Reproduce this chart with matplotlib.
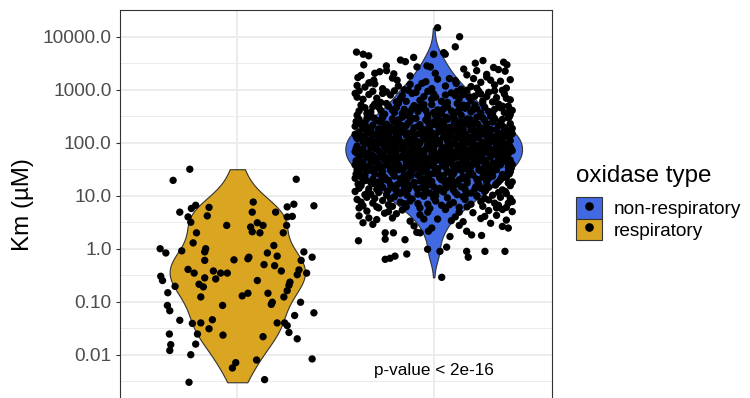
import numpy as np
import matplotlib
matplotlib.use("Agg")
import matplotlib.pyplot as plt
from matplotlib import cbook, mlab
from matplotlib.patches import Patch
from matplotlib.lines import Line2D
from matplotlib.legend_handler import HandlerTuple
from matplotlib.ticker import FixedLocator, NullFormatter

plt.rcParams['font.family'] = ['Liberation Sans', 'DejaVu Sans']

# ---------------- data ----------------
categories = ["respiratory", "non-respiratory"]          # left, right on the x axis
legend_order = ["non-respiratory", "respiratory"]
fill_colors = {"non-respiratory": "#4169E1", "respiratory": "#DAA520"}
legend_title = "oxidase type"
y_label = "Km (\u00b5M)"
y_ticks = [0.01, 0.1, 1, 10, 100, 1000, 10000]
y_tick_labels = ["0.01", "0.10", "1.0", "10.0", "100.0", "1000.0", "10000.0"]
p_label = "p-value < 2e-16"
p_label_y = 0.005

# (horizontal jitter offset, log10 Km [uM])
resp_points = [
    (-0.242, 1.50), (-0.327, 1.29), (0.300, 1.31), (0.081, 0.88), (0.076, 0.69), (-0.212, 0.82), (-0.234, 0.76),
    (-0.293, 0.69), (-0.251, 0.60), (-0.237, 0.50), (-0.144, 0.78), (-0.153, 0.62), (-0.054, 0.44), (0.068, 0.41),
    (0.102, 0.49), (0.131, 0.44), (0.076, 0.32), (0.115, 0.30), (-0.208, 0.30), (-0.225, 0.11), (0.195, 0.69),
    (0.254, 0.79), (0.288, 0.84), (0.254, 0.60), (0.280, 0.61), (0.390, 0.81), (0.251, 0.44), (0.234, 0.30),
    (0.186, 0.06), (-0.393, 0.00), (-0.364, -0.08), (-0.283, -0.04), (-0.161, 0.00), (-0.166, -0.06), (-0.166, -0.22),
    (-0.017, -0.21), (0.059, -0.16), (0.054, -0.19), (0.153, -0.08), (0.203, -0.14), (0.190, -0.32), (0.136, -0.30),
    (0.224, -0.42), (0.339, -0.06), (0.325, -0.22), (0.381, -0.16), (0.314, -0.40), (0.305, -0.49), (0.353, -0.46),
    (-0.251, -0.39), (-0.220, -0.46), (-0.122, -0.42), (-0.085, -0.46), (-0.051, -0.46), (-0.110, -0.57), (-0.166, -0.55),
    (-0.390, -0.52), (-0.381, -0.60), (-0.317, -0.71), (-0.195, -0.67), (-0.173, -0.72), (-0.186, -0.91), (-0.354, -0.83),
    (-0.356, -1.07), (-0.344, -1.17), (-0.293, -1.35), (0.102, -0.60), (0.025, -0.89), (0.054, -0.84), (0.156, -0.84),
    (0.178, -1.01), (0.173, -1.05), (0.237, -0.91), (0.254, -0.79), (0.263, -0.69), (0.268, -0.63), (0.322, -1.01),
    (0.292, -1.26), (0.390, -1.21), (-0.075, -1.07), (-0.229, -1.41), (-0.186, -1.40), (-0.127, -1.34), (-0.144, -1.51),
    (-0.203, -1.61), (0.203, -1.40), (0.241, -1.40), (0.254, -1.45), (0.263, -1.58), (0.305, -1.70), (0.131, -1.66),
    (-0.073, -1.63), (-0.346, -1.61), (-0.339, -1.81), (-0.344, -1.92), (-0.212, -1.80), (-0.237, -2.00), (0.381, -2.08),
    (0.098, -2.10), (-0.008, -2.15), (-0.025, -2.25), (-0.246, -2.52), (0.139, -2.47),
]

nonresp_points_top = [
    (0.020, 4.17), (0.132, 4.00), (0.110, 3.81), (-0.393, 3.71), (-0.359, 3.67), (-0.331, 3.64), (-0.356, 3.47),
    (-0.169, 3.56), (-0.144, 3.53), (-0.102, 3.61), (0.000, 3.67), (0.051, 3.70), (0.059, 3.67), (-0.241, 3.45),
    (-0.275, 3.34), (-0.386, 3.23), (-0.305, 3.18), (-0.322, 3.13), (-0.203, 3.30), (-0.186, 3.18), (-0.085, 3.43),
    (-0.034, 3.45), (-0.017, 3.43), (0.008, 3.31), (0.153, 3.39), (0.212, 3.50), (0.251, 3.55), (0.305, 3.42),
    (0.356, 3.52), (0.373, 3.47), (0.364, 3.35), (0.169, 3.28), (0.203, 3.21), (0.115, 3.12), (0.219, 3.36),
    (-0.37, 3.27), (-0.24, 3.36), (-0.12, 3.26), (0.27, 3.29), (0.33, 3.38), (-0.30, 3.31),
]

nonresp_points_core = [
    (-0.35, 3.05), (-0.26, 3.02), (-0.12, 3.10), (-0.04, 3.15), (0.06, 3.07), (0.14, 3.01), (0.24, 3.14), (0.31, 3.09),
    (0.37, 3.03), (-0.39, 3.08), (-0.21, 3.22), (-0.08, 3.04), (0.02, 3.20), (0.11, 3.17), (0.27, 3.24), (0.34, 3.16),
    (-0.30, 3.11), (-0.15, 3.00), (0.19, 3.06), (-0.01, 3.02), (0.39, 3.19),
    (-0.38, 2.98), (-0.33, 2.91), (-0.29, 2.84), (-0.24, 2.96), (-0.19, 2.77), (-0.16, 2.89), (-0.11, 2.93), (-0.07, 2.80),
    (-0.03, 2.97), (0.01, 2.86), (0.04, 2.78), (0.09, 2.94), (0.13, 2.83), (0.17, 2.99), (0.21, 2.88), (0.25, 2.79),
    (0.28, 2.95), (0.32, 2.85), (0.36, 2.92), (0.39, 2.81), (-0.36, 2.82), (-0.27, 2.76), (-0.22, 2.90), (-0.13, 2.99),
    (-0.05, 2.87), (0.07, 2.76), (0.15, 2.91), (0.23, 2.97), (0.30, 2.77), (0.35, 2.99), (-0.40, 2.93), (-0.17, 2.83),
    (-0.09, 2.95), (0.11, 2.89), (0.19, 2.80), (0.27, 2.87), (-0.31, 2.97), (0.00, 2.92),
    (-0.39, 2.52), (-0.35, 2.66), (-0.32, 2.58), (-0.30, 2.73), (-0.27, 2.61), (-0.25, 2.54), (-0.23, 2.69), (-0.20, 2.57),
    (-0.18, 2.74), (-0.15, 2.63), (-0.13, 2.51), (-0.10, 2.70), (-0.08, 2.59), (-0.06, 2.66), (-0.03, 2.53), (-0.01, 2.72),
    (0.02, 2.62), (0.04, 2.55), (0.07, 2.68), (0.09, 2.60), (0.12, 2.74), (0.14, 2.52), (0.16, 2.65), (0.19, 2.58),
    (0.21, 2.71), (0.24, 2.56), (0.26, 2.67), (0.29, 2.50), (0.31, 2.63), (0.33, 2.73), (0.36, 2.57), (0.38, 2.69),
    (0.40, 2.61), (-0.37, 2.71), (-0.34, 2.55), (-0.28, 2.67), (-0.21, 2.62), (-0.16, 2.55), (-0.11, 2.64), (-0.04, 2.61),
    (0.01, 2.51), (0.06, 2.73), (0.11, 2.57), (0.17, 2.70), (0.22, 2.64), (0.28, 2.59), (0.34, 2.66), (0.39, 2.53),
    (-0.24, 2.74), (-0.07, 2.68), (0.13, 2.63),
    (-0.40, 2.31), (-0.38, 2.44), (-0.36, 2.27), (-0.35, 2.38), (-0.33, 2.49), (-0.31, 2.33), (-0.29, 2.42), (-0.28, 2.26),
    (-0.26, 2.47), (-0.24, 2.35), (-0.22, 2.29), (-0.21, 2.45), (-0.19, 2.37), (-0.17, 2.26), (-0.16, 2.48), (-0.14, 2.32),
    (-0.12, 2.41), (-0.10, 2.28), (-0.09, 2.46), (-0.07, 2.34), (-0.05, 2.25), (-0.04, 2.43), (-0.02, 2.30), (0.00, 2.39),
    (0.02, 2.47), (0.03, 2.27), (0.05, 2.36), (0.07, 2.44), (0.08, 2.29), (0.10, 2.49), (0.12, 2.33), (0.14, 2.40),
    (0.15, 2.26), (0.17, 2.45), (0.19, 2.31), (0.21, 2.38), (0.22, 2.48), (0.24, 2.28), (0.26, 2.42), (0.27, 2.35),
    (0.29, 2.25), (0.31, 2.46), (0.33, 2.32), (0.34, 2.40), (0.36, 2.29), (0.38, 2.47), (0.39, 2.36), (-0.37, 2.35),
    (-0.32, 2.25), (-0.27, 2.39), (-0.23, 2.26), (-0.18, 2.43), (-0.13, 2.37), (-0.08, 2.31), (-0.03, 2.48), (0.01, 2.34),
    (0.06, 2.28), (0.11, 2.43), (0.16, 2.37), (0.20, 2.27), (0.25, 2.47), (0.30, 2.39), (0.35, 2.44), (0.40, 2.27),
    (-0.34, 2.46), (-0.15, 2.29), (0.04, 2.41), (0.18, 2.34), (0.32, 2.25),
    (-0.39, 2.08), (-0.38, 2.19), (-0.36, 2.02), (-0.35, 2.13), (-0.34, 2.23), (-0.32, 2.06), (-0.31, 2.16), (-0.30, 2.01),
    (-0.28, 2.21), (-0.27, 2.10), (-0.26, 2.04), (-0.24, 2.18), (-0.23, 2.12), (-0.22, 2.24), (-0.20, 2.03), (-0.19, 2.15),
    (-0.18, 2.09), (-0.16, 2.22), (-0.15, 2.00), (-0.14, 2.14), (-0.12, 2.07), (-0.11, 2.20), (-0.10, 2.11), (-0.08, 2.02),
    (-0.07, 2.17), (-0.06, 2.24), (-0.04, 2.05), (-0.03, 2.13), (-0.02, 2.21), (0.00, 2.08), (0.01, 2.16), (0.03, 2.01),
    (0.04, 2.23), (0.05, 2.11), (0.07, 2.04), (0.08, 2.19), (0.09, 2.14), (0.11, 2.06), (0.12, 2.22), (0.13, 2.10),
    (0.15, 2.02), (0.16, 2.17), (0.17, 2.12), (0.19, 2.24), (0.20, 2.05), (0.21, 2.15), (0.23, 2.09), (0.24, 2.20),
    (0.25, 2.01), (0.27, 2.13), (0.28, 2.07), (0.29, 2.23), (0.31, 2.11), (0.32, 2.03), (0.33, 2.18), (0.35, 2.08),
    (0.36, 2.21), (0.37, 2.14), (0.39, 2.04), (0.40, 2.17), (-0.37, 2.11), (-0.33, 2.00), (-0.29, 2.14), (-0.25, 2.23),
    (-0.21, 2.07), (-0.17, 2.19), (-0.13, 2.03), (-0.09, 2.16), (-0.05, 2.09), (-0.01, 2.19), (0.02, 2.05), (0.06, 2.15),
    (0.10, 2.24), (0.14, 2.08), (0.18, 2.01), (0.22, 2.21), (0.26, 2.16), (0.30, 2.06), (0.34, 2.13), (0.38, 2.22),
    (-0.40, 2.16), (-0.19, 2.24), (0.00, 2.00), (0.19, 2.10), (0.35, 2.00),
    (-0.40, 1.83), (-0.39, 1.94), (-0.37, 1.77), (-0.36, 1.88), (-0.35, 1.98), (-0.33, 1.81), (-0.32, 1.91), (-0.31, 1.76),
    (-0.29, 1.96), (-0.28, 1.85), (-0.27, 1.79), (-0.25, 1.93), (-0.24, 1.87), (-0.23, 1.99), (-0.21, 1.78), (-0.20, 1.90),
    (-0.19, 1.84), (-0.17, 1.97), (-0.16, 1.75), (-0.15, 1.89), (-0.13, 1.82), (-0.12, 1.95), (-0.11, 1.86), (-0.09, 1.77),
    (-0.08, 1.92), (-0.07, 1.99), (-0.05, 1.80), (-0.04, 1.88), (-0.03, 1.96), (-0.01, 1.83), (0.00, 1.91), (0.02, 1.76),
    (0.03, 1.98), (0.04, 1.86), (0.06, 1.79), (0.07, 1.94), (0.08, 1.89), (0.10, 1.81), (0.11, 1.97), (0.12, 1.85),
    (0.14, 1.77), (0.15, 1.92), (0.16, 1.87), (0.18, 1.99), (0.19, 1.80), (0.20, 1.90), (0.22, 1.84), (0.23, 1.95),
    (0.24, 1.76), (0.26, 1.88), (0.27, 1.82), (0.28, 1.98), (0.30, 1.86), (0.31, 1.78), (0.32, 1.93), (0.34, 1.83),
    (0.35, 1.96), (0.36, 1.89), (0.38, 1.79), (0.39, 1.92), (0.40, 1.85), (-0.38, 1.86), (-0.34, 1.75), (-0.30, 1.89),
    (-0.26, 1.98), (-0.22, 1.82), (-0.18, 1.94), (-0.14, 1.78), (-0.10, 1.91), (-0.06, 1.84), (-0.02, 1.94), (0.01, 1.80),
    (0.05, 1.90), (0.09, 1.99), (0.13, 1.83), (0.17, 1.76), (0.21, 1.96), (0.25, 1.91), (0.29, 1.81), (0.33, 1.88),
    (0.37, 1.97), (-0.39, 1.80), (-0.20, 1.97), (-0.01, 1.75), (0.18, 1.85), (0.34, 1.75), (-0.12, 1.80), (0.07, 1.84),
    (0.26, 1.94),
    (-0.40, 1.58), (-0.38, 1.69), (-0.37, 1.52), (-0.36, 1.63), (-0.34, 1.73), (-0.33, 1.56), (-0.32, 1.66), (-0.30, 1.51),
    (-0.29, 1.71), (-0.28, 1.60), (-0.26, 1.54), (-0.25, 1.68), (-0.24, 1.62), (-0.22, 1.74), (-0.21, 1.53), (-0.20, 1.65),
    (-0.18, 1.59), (-0.17, 1.72), (-0.16, 1.50), (-0.14, 1.64), (-0.13, 1.57), (-0.12, 1.70), (-0.10, 1.61), (-0.09, 1.52),
    (-0.08, 1.67), (-0.06, 1.74), (-0.05, 1.55), (-0.04, 1.63), (-0.02, 1.71), (-0.01, 1.58), (0.01, 1.66), (0.02, 1.51),
    (0.03, 1.73), (0.05, 1.61), (0.06, 1.54), (0.07, 1.69), (0.09, 1.64), (0.10, 1.56), (0.11, 1.72), (0.13, 1.60),
    (0.14, 1.52), (0.15, 1.67), (0.17, 1.62), (0.18, 1.74), (0.19, 1.55), (0.21, 1.65), (0.22, 1.59), (0.23, 1.70),
    (0.25, 1.51), (0.26, 1.63), (0.27, 1.57), (0.29, 1.73), (0.30, 1.61), (0.31, 1.53), (0.33, 1.68), (0.34, 1.58),
    (0.35, 1.71), (0.37, 1.64), (0.38, 1.54), (0.39, 1.67), (-0.39, 1.61), (-0.35, 1.50), (-0.31, 1.64), (-0.27, 1.73),
    (-0.23, 1.57), (-0.19, 1.69), (-0.15, 1.53), (-0.11, 1.66), (-0.07, 1.59), (-0.03, 1.69), (0.00, 1.55), (0.04, 1.65),
    (0.08, 1.74), (0.12, 1.58), (0.16, 1.51), (0.20, 1.71), (0.24, 1.66), (0.28, 1.56), (0.32, 1.63), (0.36, 1.72),
    (0.40, 1.59), (-0.18, 1.52), (0.05, 1.70), (0.27, 1.50),
    (-0.40, 1.33), (-0.38, 1.44), (-0.36, 1.27), (-0.35, 1.38), (-0.33, 1.48), (-0.31, 1.31), (-0.30, 1.41), (-0.28, 1.26),
    (-0.26, 1.46), (-0.25, 1.35), (-0.23, 1.29), (-0.21, 1.43), (-0.20, 1.37), (-0.18, 1.49), (-0.16, 1.28), (-0.15, 1.40),
    (-0.13, 1.34), (-0.11, 1.47), (-0.10, 1.25), (-0.08, 1.39), (-0.06, 1.32), (-0.05, 1.45), (-0.03, 1.36), (-0.01, 1.27),
    (0.00, 1.42), (0.02, 1.49), (0.04, 1.30), (0.05, 1.38), (0.07, 1.46), (0.09, 1.33), (0.10, 1.41), (0.12, 1.26),
    (0.14, 1.48), (0.15, 1.36), (0.17, 1.29), (0.19, 1.44), (0.20, 1.39), (0.22, 1.31), (0.24, 1.47), (0.25, 1.35),
    (0.27, 1.27), (0.29, 1.42), (0.30, 1.37), (0.32, 1.49), (0.34, 1.30), (0.35, 1.40), (0.37, 1.34), (0.39, 1.45),
    (0.40, 1.26), (-0.37, 1.36), (-0.32, 1.25), (-0.27, 1.39), (-0.22, 1.48), (-0.17, 1.32), (-0.12, 1.44), (-0.07, 1.28),
    (-0.02, 1.41), (0.03, 1.34), (0.08, 1.44), (0.13, 1.30), (0.18, 1.40), (0.23, 1.49), (0.28, 1.33), (0.33, 1.26),
    (0.38, 1.46), (-0.39, 1.49), (-0.14, 1.25), (0.06, 1.25), (0.26, 1.45), (-0.24, 1.30),
    (-0.40, 1.08), (-0.37, 1.19), (-0.35, 1.02), (-0.33, 1.13), (-0.31, 1.23), (-0.28, 1.06), (-0.26, 1.16), (-0.24, 1.01),
    (-0.22, 1.21), (-0.19, 1.10), (-0.17, 1.04), (-0.15, 1.18), (-0.13, 1.12), (-0.10, 1.24), (-0.08, 1.03), (-0.06, 1.15),
    (-0.04, 1.09), (-0.01, 1.22), (0.01, 1.00), (0.03, 1.14), (0.05, 1.07), (0.08, 1.20), (0.10, 1.11), (0.12, 1.02),
    (0.14, 1.17), (0.17, 1.24), (0.19, 1.05), (0.21, 1.13), (0.23, 1.21), (0.26, 1.08), (0.28, 1.16), (0.30, 1.01),
    (0.32, 1.23), (0.35, 1.11), (0.37, 1.04), (0.39, 1.19), (-0.38, 1.14), (-0.32, 1.03), (-0.27, 1.22), (-0.21, 1.15),
    (-0.16, 1.07), (-0.11, 1.20), (-0.05, 1.02), (0.00, 1.17), (0.06, 1.23), (0.11, 1.06), (0.16, 1.12), (0.22, 1.00),
    (0.27, 1.19), (0.33, 1.06), (0.38, 1.24), (-0.29, 1.12), (-0.02, 1.05), (0.24, 1.14), (0.09, 1.23),
    (-0.39, 0.93), (-0.36, 0.81), (-0.34, 0.97), (-0.31, 0.86), (-0.28, 0.77), (-0.26, 0.91), (-0.23, 0.83), (-0.20, 0.98),
    (-0.17, 0.88), (-0.14, 0.79), (-0.11, 0.94), (-0.08, 0.85), (-0.05, 0.99), (-0.02, 0.76), (0.01, 0.90), (0.04, 0.82),
    (0.07, 0.96), (0.10, 0.87), (0.13, 0.78), (0.16, 0.93), (0.19, 0.84), (0.22, 0.99), (0.25, 0.80), (0.28, 0.92),
    (0.31, 0.86), (0.34, 0.97), (0.37, 0.78), (0.40, 0.89), (-0.38, 0.77), (-0.30, 0.95), (-0.21, 0.80), (-0.12, 0.90),
    (-0.03, 0.84), (0.06, 0.77), (0.15, 0.98), (0.24, 0.89), (0.33, 0.82), (0.39, 0.95),
    (-0.38, 0.62), (-0.34, 0.71), (-0.29, 0.55), (-0.25, 0.67), (-0.21, 0.58), (-0.16, 0.73), (-0.12, 0.52), (-0.07, 0.64),
    (-0.03, 0.69), (0.02, 0.56), (0.06, 0.74), (0.11, 0.60), (0.15, 0.51), (0.20, 0.68), (0.24, 0.57), (0.28, 0.72),
    (0.32, 0.63), (0.37, 0.54), (0.40, 0.70), (-0.19, 0.66), (0.09, 0.53),
]

nonresp_points_core2 = [
    (-0.33, 3.13), (-0.18, 3.07), (0.08, 3.21), (0.22, 3.03), (0.29, 3.18), (-0.06, 3.12),
    (-0.39, 2.86), (-0.26, 2.93), (-0.14, 2.78), (-0.01, 2.82), (0.06, 2.90), (0.12, 2.97), (0.18, 2.86), (0.24, 2.92),
    (0.31, 2.98), (0.37, 2.84), (-0.20, 2.98),
    (-0.38, 2.60), (-0.31, 2.68), (-0.26, 2.51), (-0.19, 2.66), (-0.12, 2.58), (-0.05, 2.72), (0.00, 2.57), (0.05, 2.64),
    (0.10, 2.53), (0.15, 2.71), (0.20, 2.62), (0.25, 2.74), (0.30, 2.55), (0.35, 2.69), (0.39, 2.62),
    (-0.395, 2.40), (-0.345, 2.30), (-0.305, 2.47), (-0.255, 2.27), (-0.205, 2.41), (-0.165, 2.33), (-0.115, 2.47),
    (-0.065, 2.26), (-0.025, 2.37), (0.025, 2.31), (0.065, 2.48), (0.105, 2.38), (0.145, 2.29), (0.185, 2.44),
    (0.225, 2.35), (0.265, 2.26), (0.305, 2.43), (0.345, 2.34), (0.385, 2.49), (-0.185, 2.28),
    (-0.395, 2.12), (-0.355, 2.05), (-0.325, 2.19), (-0.285, 2.03), (-0.255, 2.14), (-0.215, 2.22), (-0.175, 2.05),
    (-0.135, 2.18), (-0.095, 2.01), (-0.055, 2.14), (-0.015, 2.06), (0.025, 2.21), (0.065, 2.09), (0.105, 2.02),
    (0.145, 2.17), (0.185, 2.06), (0.225, 2.13), (0.265, 2.24), (0.305, 2.02), (0.345, 2.16), (0.385, 2.09),
    (-0.235, 2.00), (-0.045, 2.22), (0.125, 2.12), (0.285, 2.18),
    (-0.395, 1.89), (-0.355, 1.78), (-0.315, 1.95), (-0.275, 1.83), (-0.235, 1.91), (-0.195, 1.77), (-0.155, 1.86),
    (-0.115, 1.99), (-0.075, 1.81), (-0.035, 1.90), (0.005, 1.97), (0.045, 1.78), (0.085, 1.87), (0.125, 1.95),
    (0.165, 1.82), (0.205, 1.93), (0.245, 1.80), (0.285, 1.89), (0.325, 1.98), (0.365, 1.77), (0.395, 1.88),
    (-0.255, 1.76), (-0.095, 1.95), (0.065, 1.91), (0.225, 1.78), (0.355, 1.85),
    (-0.395, 1.66), (-0.355, 1.55), (-0.315, 1.70), (-0.275, 1.52), (-0.235, 1.64), (-0.195, 1.58), (-0.155, 1.73),
    (-0.115, 1.55), (-0.075, 1.63), (-0.035, 1.52), (0.005, 1.68), (0.045, 1.57), (0.085, 1.62), (0.125, 1.74),
    (0.165, 1.56), (0.205, 1.64), (0.245, 1.72), (0.285, 1.53), (0.325, 1.60), (0.365, 1.69), (0.395, 1.52),
    (-0.215, 1.71), (-0.055, 1.60), (0.105, 1.50), (0.265, 1.67),
    (-0.395, 1.41), (-0.345, 1.29), (-0.305, 1.46), (-0.255, 1.33), (-0.205, 1.42), (-0.165, 1.26), (-0.115, 1.38),
    (-0.065, 1.48), (-0.025, 1.31), (0.025, 1.40), (0.065, 1.28), (0.105, 1.45), (0.145, 1.33), (0.185, 1.42),
    (0.225, 1.27), (0.265, 1.38), (0.305, 1.47), (0.345, 1.34), (0.385, 1.41), (-0.045, 1.25),
    (-0.385, 1.22), (-0.335, 1.06), (-0.285, 1.17), (-0.235, 1.09), (-0.185, 1.21), (-0.135, 1.01), (-0.085, 1.13),
    (-0.035, 1.19), (0.015, 1.08), (0.065, 1.15), (0.115, 1.22), (0.165, 1.03), (0.215, 1.17), (0.265, 1.10),
    (0.315, 1.20), (0.365, 1.08),
    (-0.37, 0.88), (-0.29, 0.79), (-0.22, 0.94), (-0.15, 0.85), (-0.07, 0.77), (0.00, 0.96), (0.08, 0.83), (0.17, 0.79),
    (0.26, 0.95), (0.32, 0.77), (0.38, 0.86),
    (-0.33, 0.58), (-0.23, 0.70), (-0.05, 0.56), (0.13, 0.69), (0.26, 0.61), (0.35, 0.74),
]

nonresp_points_low = [
    (-0.31, 0.46), (0.13, 0.44), (0.29, 0.48), (-0.10, 0.43), (0.35, 0.42), (-0.36, 0.49),
    (-0.383, 0.15), (-0.247, 0.30), (-0.247, 0.18), (-0.205, 0.30), (-0.146, 0.17), (-0.086, 0.31), (-0.069, 0.30),
    (-0.027, 0.33), (-0.010, 0.39), (0.083, 0.23), (0.168, 0.33), (0.193, 0.26), (0.244, 0.25), (0.380, 0.39),
    (-0.247, -0.20), (-0.222, -0.18), (-0.197, -0.14), (-0.137, -0.10), (-0.031, -0.01), (0.032, -0.05), (0.066, 0.03),
    (0.168, -0.05), (0.176, -0.16), (0.261, -0.05), (0.363, -0.05), (0.041, -0.54),
]

# ---------------- assemble ----------------
nonresp_points = nonresp_points_top + nonresp_points_core + nonresp_points_core2 + nonresp_points_low
groups = {"respiratory": resp_points, "non-respiratory": nonresp_points}
positions = {c: i + 1 for i, c in enumerate(categories)}

jit = {c: np.array([p[0] for p in groups[c]]) for c in categories}
km = {c: 10 ** np.array([p[1] for p in groups[c]]) for c in categories}


def nrd0(x):
    x = np.asarray(x, float)
    sd = x.std(ddof=1)
    q75, q25 = np.percentile(x, [75, 25])
    lo = min(sd, (q75 - q25) / 1.34)
    return 0.9 * lo * len(x) ** -0.2


def kde_method(X, coords):
    X = np.asarray(X, float)
    factor = nrd0(X) / X.std(ddof=1)
    return mlab.GaussianKDE(X, bw_method=factor).evaluate(coords)


fig = plt.figure(figsize=(7.5, 3.98), dpi=100)
W, H = 750.0, 398.0
ax = fig.add_axes([119.5 / W, (H - 400.0) / H, 432.0 / W, 390.0 / H])

# violins: density in log10 space (trimmed), scaled by area like ggplot
log_data = [np.log10(km[c]) for c in categories]
vstats = cbook.violin_stats(log_data, kde_method, points=512)
maxd = [st['vals'].max() for st in vstats]
widths = [0.9 * m / max(maxd) for m in maxd]
for st in vstats:
    st['coords'] = 10 ** st['coords']
parts = ax.violin(vstats, positions=[positions[c] for c in categories], widths=widths,
                  showmeans=False, showextrema=False, showmedians=False)
for body, c in zip(parts['bodies'], categories):
    body.set_facecolor(fill_colors[c])
    body.set_edgecolor('#333333')
    body.set_linewidth(0.8)
    body.set_alpha(1)
    body.set_zorder(2)

for c in categories:
    ax.scatter(positions[c] + jit[c], km[c], s=28, c='black', edgecolors='none', zorder=3)

ax.text(positions["non-respiratory"], p_label_y, p_label, ha='center', va='center',
        fontsize=12.3, color='black', zorder=4)

# scales
all_log = np.concatenate(log_data)
lo, hi = all_log.min(), all_log.max()
rng = hi - lo
ax.set_yscale('log')
ax.set_ylim(10 ** (lo - 0.05 * rng), 10 ** (hi + 0.05 * rng))
ax.set_xlim(0.4, 2.6)
ax.set_xticks([positions[c] for c in categories])
ax.set_xticklabels([])
ax.set_yticks(y_ticks)
ax.set_yticklabels(y_tick_labels)
ax.yaxis.set_minor_locator(FixedLocator([10 ** (k + 0.5) for k in range(-3, 5)]))
ax.yaxis.set_minor_formatter(NullFormatter())

ax.set_axisbelow(True)
ax.grid(which='major', color='#EBEBEB', linewidth=1.3)
ax.grid(which='minor', axis='y', color='#EBEBEB', linewidth=0.7)
for s in ax.spines.values():
    s.set_color('#333333')
    s.set_linewidth(0.8)
ax.tick_params(which='major', length=3, width=0.8, color='#333333', labelcolor='#4D4D4D',
               labelsize=13.8, pad=2.6)
ax.tick_params(which='minor', length=0)

ax.set_ylabel(y_label, fontsize=17.4, color='black', va='center')
ax.yaxis.set_label_coords((23 - 119.5) / 432.0, 0.5)

# legend
handles = [(Patch(facecolor=fill_colors[c], edgecolor='#333333', linewidth=0.8),
            Line2D([], [], marker='o', linestyle='none', color='black', markersize=5.2))
           for c in legend_order]
fig.text(576 / W, 1 - 182 / H, legend_title, fontsize=17.4, ha='left', va='baseline', color='black')
leg = fig.legend(handles=handles, labels=legend_order, handler_map={tuple: HandlerTuple(ndivide=1, pad=0)},
                 loc='upper left', bbox_to_anchor=(576 / W, 1 - 197 / H), frameon=False,
                 fontsize=13.7, handlelength=1.37, handleheight=1.37, labelspacing=0,
                 handletextpad=0.63, borderpad=0, borderaxespad=0, numpoints=1)

fig.savefig('out.png', dpi=100)
